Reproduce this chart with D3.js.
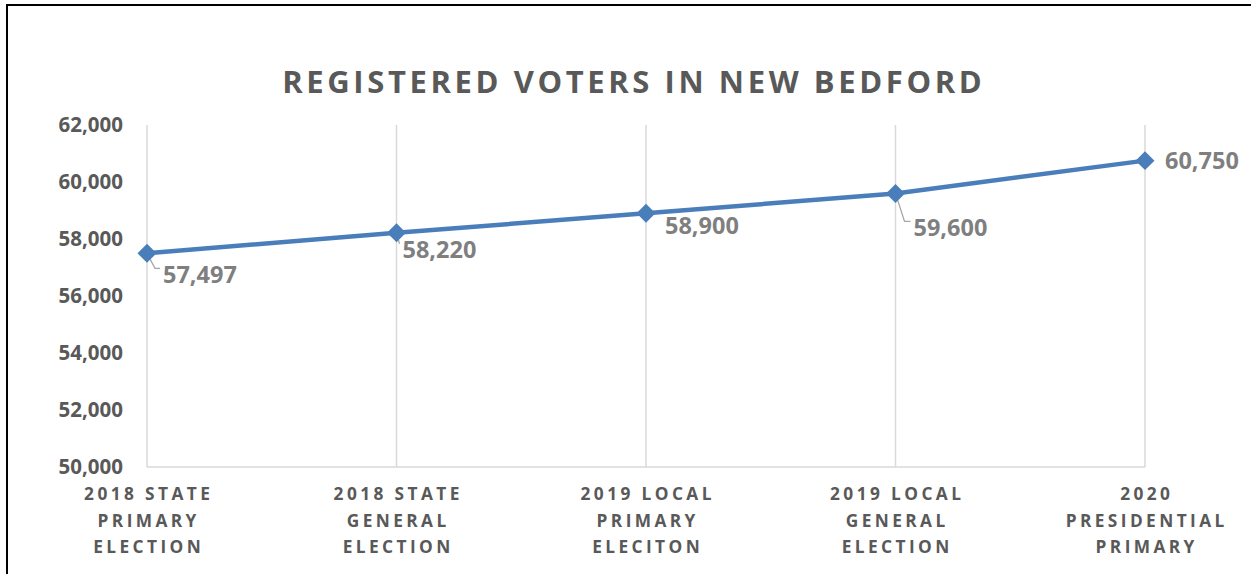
<!DOCTYPE html>
<html>
<head>
<meta charset="utf-8">
<script src="https://cdn.jsdelivr.net/npm/d3@7"></script>
<style>
  html, body { margin: 0; padding: 0; background: #fff; }
  svg { display: block; }
  text { font-family: "Open Sans", Lato, "Liberation Sans", sans-serif; font-weight: bold; }
</style>
</head>
<body>
<svg id="chart" width="1253" height="574"></svg>
<script>
// Registered voters per election
const categories = [
  ["2018 STATE", "PRIMARY", "ELECTION"],
  ["2018 STATE", "GENERAL", "ELECTION"],
  ["2019 LOCAL", "PRIMARY", "ELECITON"],
  ["2019 LOCAL", "GENERAL", "ELECTION"],
  ["2020", "PRESIDENTIAL", "PRIMARY"]
];
const voters = [57497, 58220, 58900, 59600, 60750];
const yTicks = [50000, 52000, 54000, 56000, 58000, 60000, 62000];
const title = "REGISTERED VOTERS IN NEW BEDFORD";

// Label placement: offset of each value label from its marker [dx, dy]
const labelOffsets = [[16, 21], [6, 17], [19, 12], [18, 34], [20, 0]];

const svg = d3.select("#chart");
const W = 1253, H = 574;
const plot = { left: 147, right: 1145, top: 125, bottom: 467 };

// outer frame (top and left edges visible)
svg.append("path")
  .attr("d", `M7,${H} L7,5 L1251,5`)
  .attr("fill", "none").attr("stroke", "#000").attr("stroke-width", 2);

// title, spaced out to span its row
const titleText = svg.append("text")
  .attr("x", 632).attr("y", 93)
  .attr("text-anchor", "middle")
  .attr("fill", "#595959")
  .style("font-size", "31px")
  .text(title);
const natural = titleText.node().getComputedTextLength();
const spacing = (703 - natural) / title.length;
titleText.style("letter-spacing", spacing + "px")
  .attr("x", 632 + spacing / 2);

const x = d3.scalePoint()
  .domain(d3.range(categories.length))
  .range([plot.left, plot.right])
  .padding(0);

const y = d3.scaleLinear()
  .domain([50000, 62000])
  .range([plot.bottom, plot.top]);

// vertical category gridlines
svg.append("g").selectAll("line")
  .data(d3.range(categories.length))
  .join("line")
  .attr("x1", d => x(d)).attr("x2", d => x(d))
  .attr("y1", plot.top).attr("y2", plot.bottom)
  .attr("stroke", "#d9d9d9").attr("stroke-width", 1.5);

// baseline
svg.append("line")
  .attr("x1", plot.left).attr("x2", plot.right)
  .attr("y1", plot.bottom).attr("y2", plot.bottom)
  .attr("stroke", "#d9d9d9").attr("stroke-width", 1.5);

// y axis labels
const yAxis = d3.axisLeft(y)
  .tickValues(yTicks)
  .tickFormat(d3.format(","))
  .tickSize(0)
  .tickPadding(0);
const gy = svg.append("g")
  .attr("transform", `translate(${plot.left - 24},0)`)
  .call(yAxis);
gy.select(".domain").remove();
gy.selectAll("text")
  .attr("fill", "#595959")
  .style("font-size", "20.5px")
  .style("font-family", "'Open Sans', Lato, sans-serif")
  .style("font-weight", "bold");

// x axis category labels
const xl = svg.append("g").selectAll("text")
  .data(categories)
  .join("text")
  .attr("x", (d, i) => x(i) + 1.7)
  .attr("y", 500)
  .attr("text-anchor", "middle")
  .attr("fill", "#595959")
  .style("font-size", "17.3px")
  .style("letter-spacing", "3.4px");
xl.selectAll("tspan")
  .data(d => d)
  .join("tspan")
  .attr("x", function () { return this.parentNode.getAttribute("x"); })
  .attr("dy", (d, i) => i === 0 ? 0 : 26.5)
  .text(d => d);

// series line
const line = d3.line()
  .x((d, i) => x(i))
  .y(d => y(d));
svg.append("path")
  .datum(voters)
  .attr("d", line)
  .attr("fill", "none")
  .attr("stroke", "#4a7ebb")
  .attr("stroke-width", 4.5);

// leader lines to value labels
svg.append("g").selectAll("path")
  .data(voters)
  .join("path")
  .filter((d, i) => i === 0 || i === 1 || i === 3)
  .attr("d", d => {
    const idx = voters.indexOf(d);
    const mx = x(idx), my = y(d);
    const [dx, dy] = labelOffsets[idx];
    const ly = my + dy - 6;
    return `M${mx},${my} L${mx + dx * 0.5},${ly} L${mx + dx - 3},${ly}`;
  })
  .attr("fill", "none")
  .attr("stroke", "#a6a6a6")
  .attr("stroke-width", 1.3);

// diamond markers
svg.append("g").selectAll("path")
  .data(voters)
  .join("path")
  .attr("d", d3.symbol().type(d3.symbolDiamond2).size(230))
  .attr("transform", (d, i) => `translate(${x(i)},${y(d)})`)
  .attr("fill", "#4a7ebb");

// value labels
svg.append("g").selectAll("text")
  .data(voters)
  .join("text")
  .attr("x", (d, i) => x(i) + labelOffsets[i][0])
  .attr("y", (d, i) => y(d) + labelOffsets[i][1])
  .attr("dy", "0.35em")
  .attr("fill", "#7f7f7f")
  .style("font-size", "23.5px")
  .text(d => d3.format(",")(d));
</script>
</body>
</html>
